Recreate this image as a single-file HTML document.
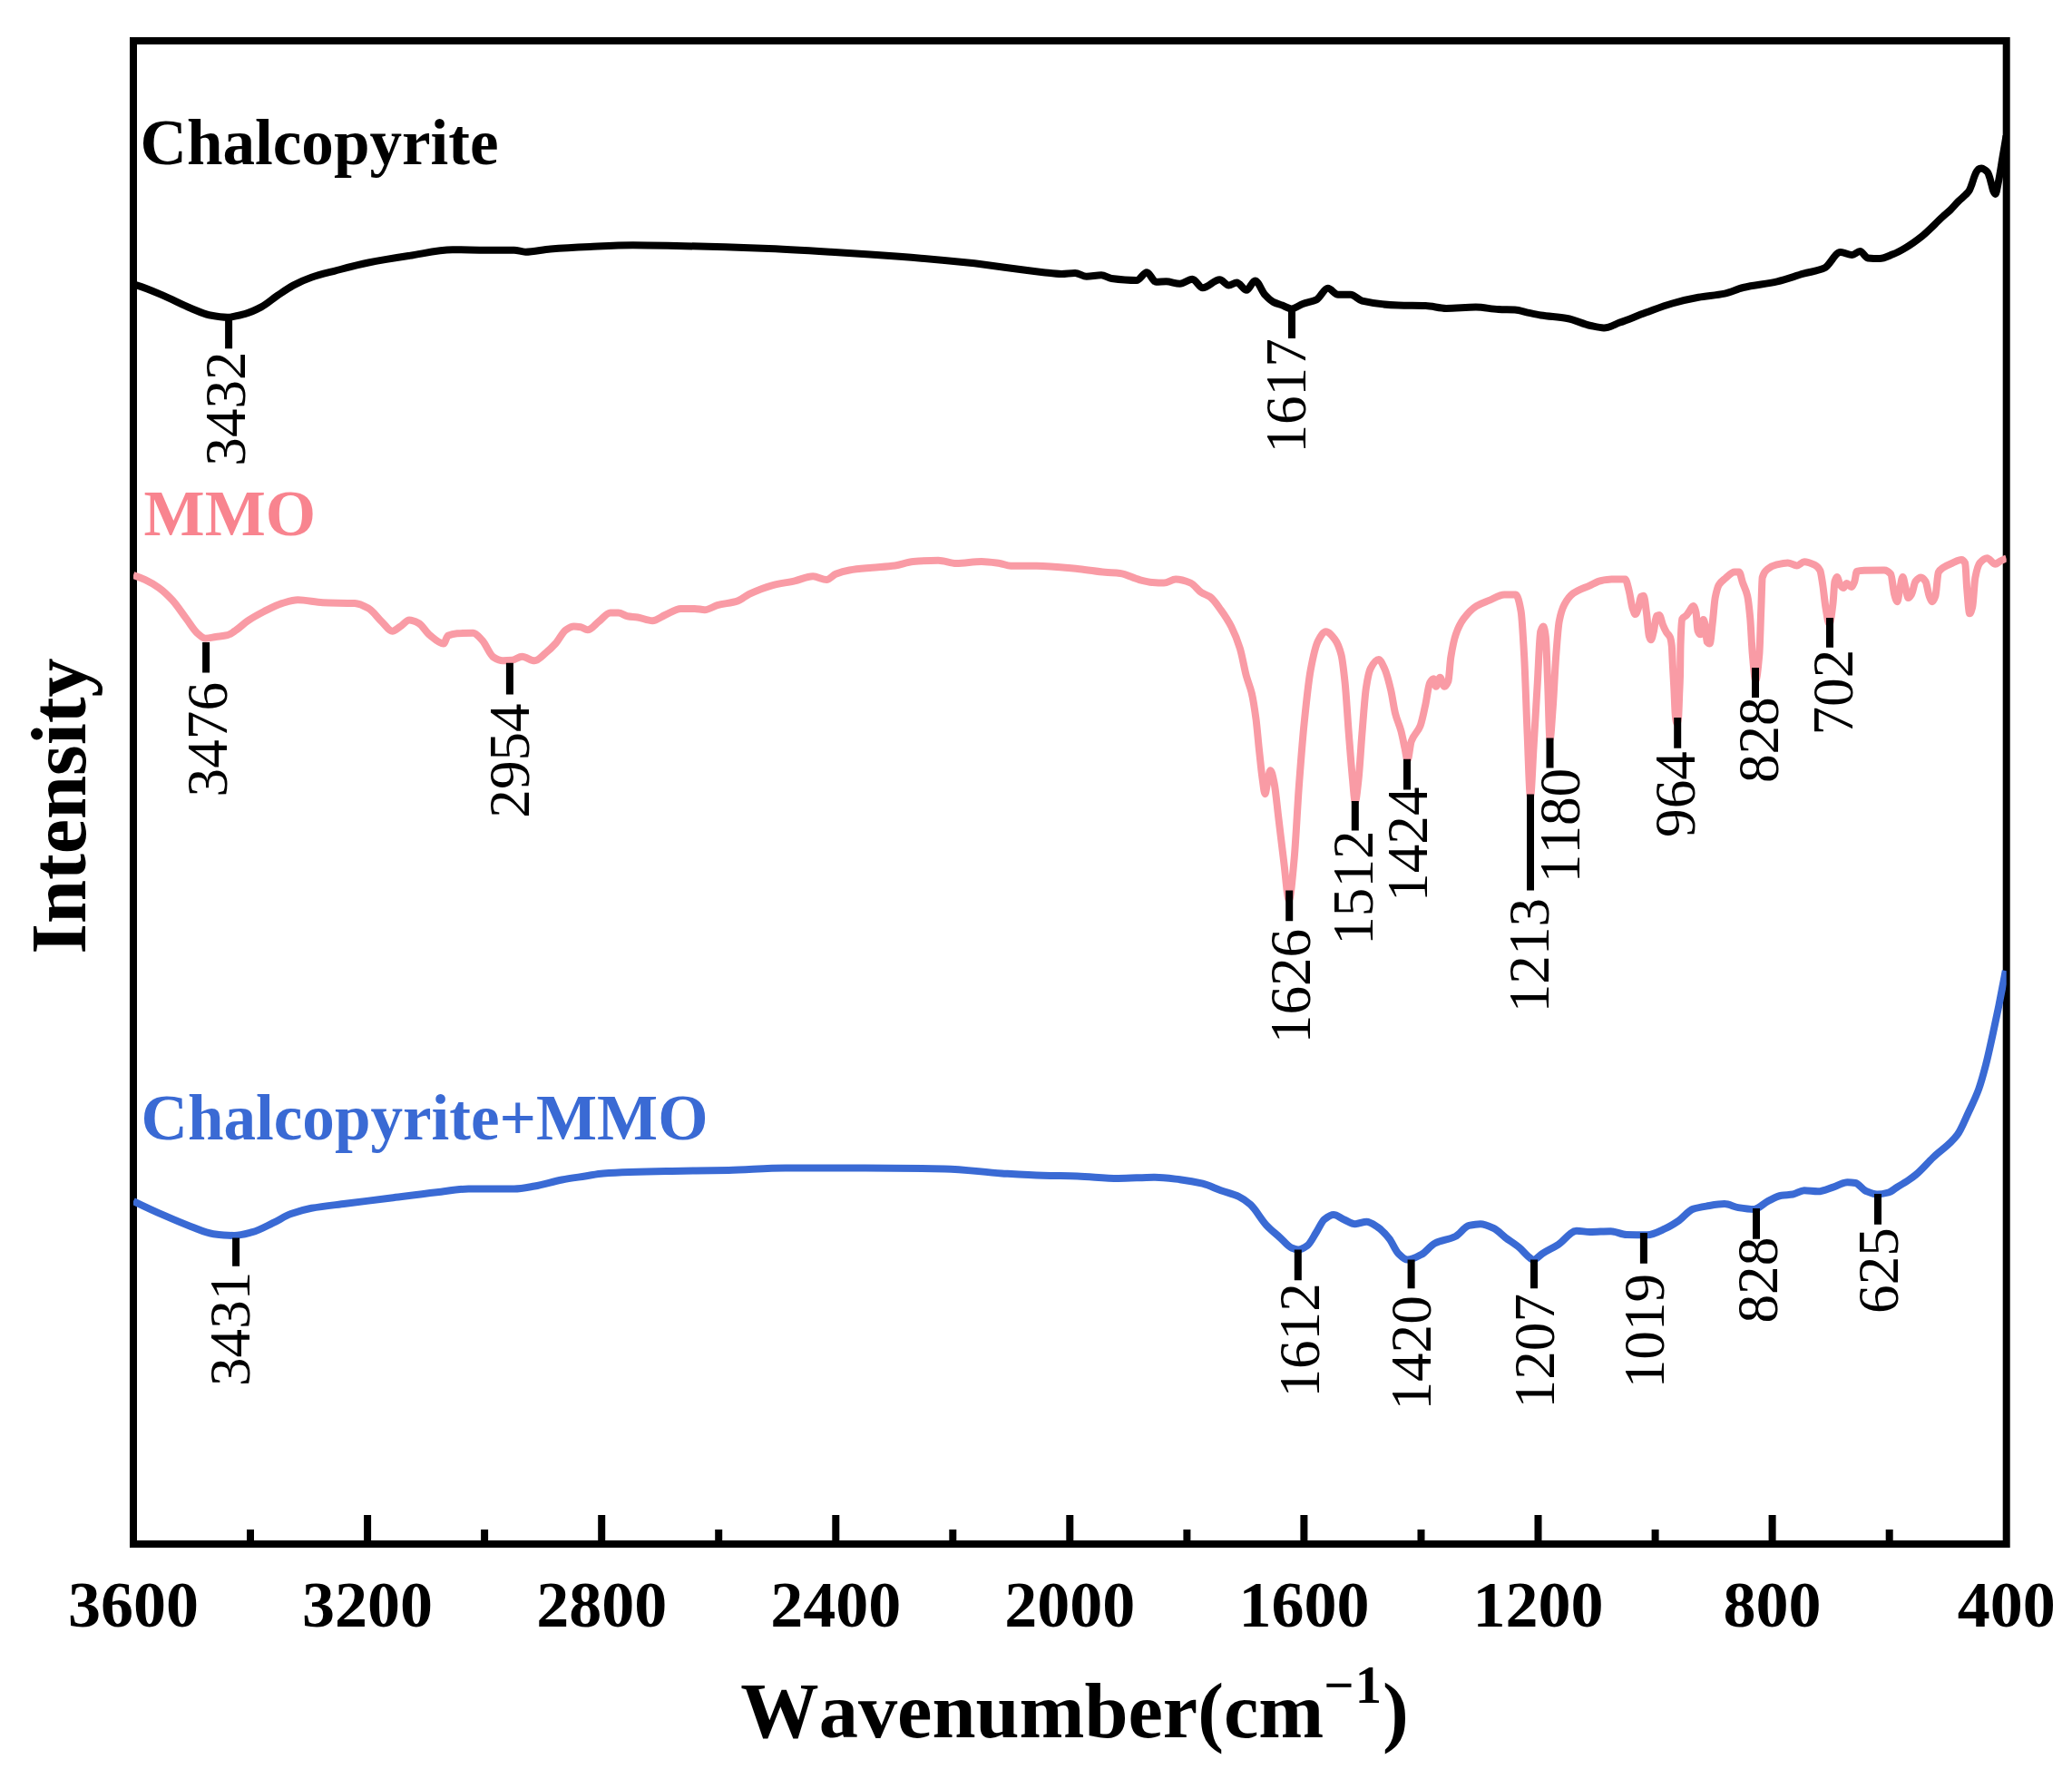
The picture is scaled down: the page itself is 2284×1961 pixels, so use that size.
<!DOCTYPE html>
<html lang="en"><head><meta charset="utf-8"><title>FTIR spectra</title>
<style>
html,body{margin:0;padding:0;background:#fff;}
svg{display:block;}
text{font-family:"Liberation Serif","Times New Roman",Times,serif;font-kerning:none;font-variant-ligatures:none;}
.b{font-weight:bold;}
</style></head><body>
<svg width="2284" height="1961" viewBox="0 0 2284 1961">
<rect width="2284" height="1961" fill="#fff"/>
<rect x="147.0" y="45.0" width="2064.7" height="1657.0" fill="none" stroke="#000" stroke-width="8"/>
<path d="M276.0,1702.0V1686M405.1,1702.0V1670M534.1,1702.0V1686M663.2,1702.0V1670M792.2,1702.0V1686M921.3,1702.0V1670M1050.3,1702.0V1686M1179.3,1702.0V1670M1308.4,1702.0V1686M1437.4,1702.0V1670M1566.5,1702.0V1686M1695.5,1702.0V1670M1824.6,1702.0V1686M1953.6,1702.0V1670M2082.7,1702.0V1686" stroke="#000" stroke-width="8" fill="none"/>
<text class="b" x="147.0" y="1792.6" font-size="72" text-anchor="middle">3600</text>
<text class="b" x="405.1" y="1792.6" font-size="72" text-anchor="middle">3200</text>
<text class="b" x="663.2" y="1792.6" font-size="72" text-anchor="middle">2800</text>
<text class="b" x="921.3" y="1792.6" font-size="72" text-anchor="middle">2400</text>
<text class="b" x="1179.3" y="1792.6" font-size="72" text-anchor="middle">2000</text>
<text class="b" x="1437.4" y="1792.6" font-size="72" text-anchor="middle">1600</text>
<text class="b" x="1695.5" y="1792.6" font-size="72" text-anchor="middle">1200</text>
<text class="b" x="1953.6" y="1792.6" font-size="72" text-anchor="middle">800</text>
<text class="b" x="2211.7" y="1792.6" font-size="72" text-anchor="middle">400</text>
<clipPath id="cp"><rect x="147.0" y="45.0" width="2064.7" height="1657.0"/></clipPath>
<g clip-path="url(#cp)" fill="none" stroke-width="8" stroke-linejoin="round" stroke-linecap="butt">
<path d="M147.0,313.5C148.4,313.8 149.9,314.2 151.3,314.6C160.9,317.4 170.6,321.8 180.2,325.9C190.2,330.1 200.3,335.6 210.3,339.7C217.0,342.4 223.7,345.9 230.4,347.2C237.1,348.4 243.8,349.7 250.5,349.7C257.2,349.7 263.8,347.7 270.5,345.9C276.4,344.3 282.2,341.5 288.1,338.4C294.0,335.3 299.8,329.9 305.7,325.9C311.5,322.0 317.4,317.7 323.2,314.6C329.9,311.1 336.6,308.1 343.3,305.8C351.7,302.9 360.0,301.0 368.4,298.8C381.0,295.5 393.5,292.0 406.1,289.5C421.1,286.5 436.2,284.2 451.2,281.9C467.1,279.5 483.0,275.2 498.9,275.2C511.5,275.2 524.0,275.7 536.6,275.7C546.6,275.7 556.7,275.7 566.7,275.7C570.9,275.7 575.0,277.7 579.2,277.7C588.4,277.7 597.6,275.1 606.8,274.4C621.2,273.2 635.6,272.5 650.0,271.9C665.9,271.2 681.8,270.3 697.7,270.3C713.6,270.3 729.5,270.7 745.4,271.0C777.2,271.6 809.0,272.6 840.8,273.8C865.9,274.8 890.9,276.3 916.0,277.8C941.1,279.3 966.3,280.9 991.4,282.8C1016.5,284.7 1041.5,287.0 1066.6,289.6C1094.4,292.5 1122.2,297.4 1150.0,300.2C1156.7,300.9 1163.4,302.0 1170.1,302.0C1175.1,302.0 1180.1,301.0 1185.1,301.0C1189.3,301.0 1193.5,304.7 1197.7,304.7C1203.1,304.7 1208.6,303.2 1214.0,303.2C1217.8,303.2 1221.5,306.5 1225.3,307.0C1234.5,308.2 1243.7,309.0 1252.9,309.0C1256.7,309.0 1260.4,300.2 1264.2,300.2C1267.5,300.2 1270.9,310.8 1274.2,310.8C1278.0,310.8 1281.7,310.3 1285.5,310.3C1290.5,310.3 1295.6,312.8 1300.6,312.8C1305.2,312.8 1309.8,307.8 1314.4,307.8C1318.2,307.8 1321.9,317.3 1325.7,317.3C1332.0,317.3 1338.2,308.3 1344.5,308.3C1347.8,308.3 1351.2,314.5 1354.5,314.5C1357.4,314.5 1360.4,311.5 1363.3,311.5C1366.9,311.5 1370.5,319.8 1374.1,319.8C1377.2,319.8 1380.3,309.5 1383.4,309.5C1387.2,309.5 1390.9,321.3 1394.7,325.3C1397.6,328.4 1400.6,331.4 1403.5,332.9C1406.8,334.6 1410.2,335.4 1413.5,336.6C1416.9,337.9 1420.2,340.4 1423.6,340.4C1427.8,340.4 1431.9,336.4 1436.1,334.9C1441.1,333.1 1446.2,332.7 1451.2,330.3C1455.4,328.3 1459.5,317.8 1463.7,317.8C1467.5,317.8 1471.2,324.8 1475.0,324.8C1479.6,324.8 1484.2,324.8 1488.8,324.8C1493.0,324.8 1497.2,330.6 1501.4,331.6C1514.8,334.6 1528.1,336.2 1541.5,336.6C1551.5,336.9 1561.6,336.8 1571.6,337.1C1579.1,337.3 1586.7,339.9 1594.2,339.9C1605.1,339.9 1615.9,338.6 1626.8,338.6C1635.2,338.6 1643.5,340.7 1651.9,341.1C1657.9,341.4 1664.0,341.3 1670.0,341.6C1674.7,341.8 1679.3,343.6 1684.0,344.6C1688.8,345.6 1693.7,346.8 1698.5,347.5C1708.1,349.0 1717.8,349.3 1727.4,351.0C1736.1,352.5 1744.8,357.2 1753.5,359.0C1758.3,360.0 1763.2,361.4 1768.0,361.4C1773.8,361.4 1779.6,357.7 1785.4,355.6C1795.0,352.2 1804.7,348.1 1814.3,344.6C1824.0,341.1 1833.6,337.2 1843.3,334.5C1852.9,331.8 1862.6,329.5 1872.2,327.8C1881.9,326.1 1891.5,325.7 1901.2,323.7C1908.0,322.3 1914.7,318.6 1921.5,317.0C1934.0,314.0 1946.5,313.2 1959.0,310.4C1968.7,308.2 1978.3,304.5 1988.0,301.7C1995.7,299.5 2003.5,298.8 2011.2,295.4C2017.0,292.9 2022.8,278.0 2028.6,278.0C2032.9,278.0 2037.3,280.9 2041.6,280.9C2044.5,280.9 2047.4,277.0 2050.3,277.0C2053.2,277.0 2056.1,284.1 2059.0,284.4C2063.3,284.8 2067.7,285.0 2072.0,285.0C2076.8,285.0 2081.7,282.2 2086.5,280.3C2091.3,278.4 2096.2,275.7 2101.0,272.8C2106.8,269.4 2112.6,265.2 2118.4,260.6C2126.1,254.5 2133.8,245.9 2141.5,238.9C2144.3,236.3 2147.2,234.1 2150.0,231.3C2152.9,228.4 2155.9,224.8 2158.8,221.9C2161.5,219.2 2164.2,217.3 2166.9,214.5C2168.2,213.1 2169.6,211.9 2170.9,209.7C2171.8,208.2 2172.7,205.4 2173.6,203.0C2174.5,200.6 2175.4,197.2 2176.3,194.9C2177.2,192.6 2178.1,190.0 2179.0,188.8C2179.9,187.6 2180.8,186.4 2181.7,186.1C2182.6,185.8 2183.5,185.6 2184.4,185.6C2185.5,185.6 2186.7,186.4 2187.8,187.1C2188.9,187.8 2190.1,188.6 2191.2,190.2C2191.9,191.1 2192.5,193.5 2193.2,195.6C2193.9,197.7 2194.5,200.5 2195.2,203.0C2195.9,205.5 2196.5,208.9 2197.2,210.4C2198.0,212.1 2198.7,213.9 2199.5,213.9C2200.6,213.9 2201.7,206.1 2202.8,201.0C2204.3,193.9 2205.9,183.0 2207.4,174.0C2208.8,165.9 2210.1,157.8 2211.5,149.7" stroke="#000"/>
<path d="M147.0,634.0C151.4,635.4 155.7,637.1 160.1,639.2C165.1,641.6 170.2,644.4 175.2,648.0C180.2,651.6 185.2,656.4 190.2,661.8C195.2,667.3 200.3,675.3 205.3,681.9C209.5,687.4 213.6,694.7 217.8,698.2C220.7,700.6 223.7,703.7 226.6,703.7C230.4,703.7 234.1,702.6 237.9,702.0C242.1,701.4 246.3,701.2 250.5,700.2C253.8,699.4 257.2,696.6 260.5,694.4C264.7,691.6 268.9,687.2 273.1,684.4C278.9,680.5 284.8,677.3 290.6,674.3C297.3,670.9 304.0,667.1 310.7,665.1C316.6,663.4 322.4,661.3 328.3,661.3C337.5,661.3 346.7,663.9 355.9,664.3C367.6,664.8 379.3,664.5 391.0,665.1C396.0,665.3 401.1,667.9 406.1,670.6C411.1,673.3 416.1,680.9 421.1,685.6C424.9,689.1 428.6,695.7 432.4,695.7C435.3,695.7 438.3,692.5 441.2,690.7C444.5,688.6 447.9,683.6 451.2,683.6C454.6,683.6 457.9,685.2 461.3,686.9C465.5,688.9 469.6,696.9 473.8,700.2C478.8,704.2 483.9,709.5 488.9,709.5C490.6,709.5 492.2,701.5 493.9,700.7C497.2,699.1 500.6,698.4 503.9,698.2C509.8,697.9 515.6,697.7 521.5,697.7C524.8,697.7 528.2,702.3 531.5,705.7C535.7,710.0 539.9,722.0 544.1,724.5C547.4,726.5 550.8,728.3 554.1,728.3C557.5,728.3 560.8,728.1 564.2,727.8C568.0,727.5 571.7,723.8 575.5,723.8C580.1,723.8 584.7,728.3 589.3,728.3C593.5,728.3 597.6,722.9 601.8,719.5C605.4,716.6 608.9,713.3 612.5,709.3C616.3,705.1 620.0,696.7 623.8,694.3C626.7,692.4 629.7,690.5 632.6,690.5C635.1,690.5 637.7,690.9 640.2,691.3C642.7,691.7 645.2,694.3 647.7,694.3C651.9,694.3 656.0,688.1 660.2,685.0C664.4,681.8 668.6,675.4 672.8,675.4C675.7,675.4 678.7,675.4 681.6,675.4C684.9,675.4 688.3,678.6 691.6,679.2C695.4,679.9 699.1,679.9 702.9,680.5C708.3,681.3 713.8,684.2 719.2,684.2C723.8,684.2 728.4,680.0 733.0,678.0C738.9,675.5 744.7,670.9 750.6,670.9C755.6,670.9 760.6,670.9 765.6,670.9C769.4,670.9 773.1,672.2 776.9,672.2C781.5,672.2 786.1,668.5 790.7,667.2C798.2,665.1 805.8,664.9 813.3,662.4C817.5,661.0 821.7,656.9 825.9,654.9C834.3,650.9 842.6,647.5 851.0,645.3C859.4,643.1 867.7,642.2 876.1,640.3C882.8,638.8 889.4,635.3 896.1,635.3C901.1,635.3 906.2,639.1 911.2,639.1C914.5,639.1 917.9,634.1 921.2,632.8C926.2,630.8 931.3,629.3 936.3,628.5C944.7,627.1 953.0,626.6 961.4,625.8C969.8,625.0 978.1,624.6 986.5,623.5C993.2,622.6 999.9,619.5 1006.6,619.0C1015.8,618.3 1025.0,617.7 1034.2,617.7C1040.9,617.7 1047.5,621.0 1054.2,621.0C1063.4,621.0 1072.7,619.0 1081.9,619.0C1088.6,619.0 1095.2,620.1 1101.9,621.0C1106.0,621.6 1110.1,623.7 1114.2,623.7C1123.6,623.7 1133.1,623.7 1142.5,623.7C1158.2,623.7 1174.0,625.7 1189.7,627.2C1199.2,628.1 1208.6,629.9 1218.1,630.8C1223.6,631.3 1229.1,631.4 1234.6,632.0C1241.7,632.8 1248.7,637.2 1255.8,639.0C1260.5,640.2 1265.3,641.5 1270.0,641.9C1274.3,642.3 1278.7,642.6 1283.0,642.6C1287.3,642.6 1291.7,638.6 1296.0,638.6C1301.5,638.6 1307.0,640.4 1312.5,642.6C1316.4,644.2 1320.4,650.7 1324.3,653.2C1327.5,655.2 1330.6,655.7 1333.8,657.9C1337.7,660.6 1341.7,666.7 1345.6,672.1C1349.5,677.5 1353.5,683.2 1357.4,691.0C1360.5,697.2 1363.7,704.5 1366.8,714.6C1369.2,722.2 1371.5,736.6 1373.9,745.3C1375.9,752.5 1377.8,755.9 1379.8,764.2C1381.4,770.8 1382.9,780.7 1384.5,792.5C1385.7,801.6 1386.9,816.8 1388.1,827.9C1389.3,838.7 1390.4,850.6 1391.6,858.6C1392.6,865.3 1393.5,875.2 1394.5,875.2C1395.3,875.2 1396.2,867.0 1397.0,863.3C1398.1,858.3 1399.3,849.2 1400.4,849.2C1401.8,849.2 1403.2,856.7 1404.6,863.3C1406.2,870.8 1407.8,888.9 1409.4,902.0C1411.3,917.8 1413.3,934.9 1415.2,950.0C1417.1,964.8 1419.0,992.0 1420.9,992.0C1422.7,992.0 1424.6,968.0 1426.4,949.2C1428.3,930.1 1430.1,889.9 1432.0,864.9C1433.9,839.9 1435.7,815.9 1437.6,797.4C1440.0,773.9 1442.3,751.0 1444.7,738.4C1447.5,723.5 1450.3,711.2 1453.1,706.1C1455.9,701.0 1458.7,696.2 1461.5,696.2C1464.8,696.2 1468.1,700.4 1471.4,704.7C1473.7,707.7 1476.1,712.7 1478.4,721.5C1479.8,726.8 1481.2,739.1 1482.6,752.4C1484.0,765.7 1485.4,790.9 1486.8,808.7C1488.2,826.5 1489.6,845.2 1491.0,859.3C1491.9,868.7 1492.9,884.0 1493.8,884.0C1495.0,884.0 1496.3,870.1 1497.5,859.3C1498.8,847.9 1500.1,824.4 1501.4,808.7C1502.9,790.6 1504.4,767.6 1505.9,758.1C1507.5,747.9 1509.1,740.0 1510.7,737.0C1513.7,731.4 1516.7,727.1 1519.7,727.1C1521.9,727.1 1524.0,732.5 1526.2,737.0C1528.5,741.9 1530.9,751.1 1533.2,760.9C1534.8,767.6 1536.4,779.9 1538.0,786.2C1540.1,794.6 1542.3,797.9 1544.4,805.8C1545.8,811.1 1547.3,819.0 1548.7,825.5C1549.6,829.7 1550.6,838.0 1551.5,838.0C1552.9,838.0 1554.3,820.9 1555.7,817.1C1559.0,808.2 1562.2,808.4 1565.5,800.2C1567.4,795.5 1569.2,786.0 1571.1,777.7C1572.8,770.1 1574.5,755.3 1576.2,752.4C1577.5,750.2 1578.8,748.2 1580.1,748.2C1581.0,748.2 1582.0,756.7 1582.9,756.7C1584.4,756.7 1585.9,746.8 1587.4,746.8C1589.0,746.8 1590.6,756.7 1592.2,756.7C1593.6,756.7 1595.0,754.5 1596.4,751.0C1597.4,748.6 1598.3,730.4 1599.3,724.3C1601.2,712.6 1603.0,704.3 1604.9,699.0C1607.7,691.0 1610.5,686.0 1613.3,682.2C1618.0,675.8 1622.7,671.0 1627.4,668.1C1632.1,665.2 1636.7,663.8 1641.4,661.9C1647.0,659.6 1652.7,655.5 1658.3,655.5C1662.5,655.5 1666.7,655.5 1670.9,655.5C1672.8,655.5 1674.7,663.3 1676.6,673.7C1677.8,680.3 1679.0,702.7 1680.2,724.3C1681.3,744.7 1682.5,783.3 1683.6,808.7C1684.7,834.1 1685.9,878.0 1687.0,878.0C1688.2,878.0 1689.4,841.9 1690.6,822.7C1692.0,800.3 1693.4,775.7 1694.8,752.4C1695.9,733.6 1697.1,699.8 1698.2,696.2C1699.2,692.9 1700.3,690.6 1701.3,690.6C1702.1,690.6 1703.0,695.5 1703.8,701.8C1704.6,707.6 1705.3,734.1 1706.1,752.4C1706.9,771.5 1707.7,815.0 1708.5,815.0C1709.6,815.0 1710.6,794.4 1711.7,780.5C1712.8,765.7 1714.0,739.2 1715.1,724.3C1716.3,708.5 1717.5,691.3 1718.7,685.0C1720.6,675.2 1722.4,670.3 1724.3,666.7C1727.6,660.4 1730.9,656.5 1734.2,654.1C1740.2,649.8 1746.1,648.3 1752.1,645.6C1756.2,643.7 1760.2,641.0 1764.3,640.2C1768.3,639.4 1772.4,638.6 1776.4,638.6C1781.5,638.6 1786.5,638.6 1791.6,638.6C1792.9,638.6 1794.3,645.7 1795.6,650.7C1797.0,655.8 1798.3,667.0 1799.7,670.9C1800.7,673.7 1801.7,677.0 1802.7,677.0C1803.7,677.0 1804.8,673.7 1805.8,670.9C1806.8,668.2 1807.8,658.4 1808.8,657.8C1809.8,657.2 1810.8,656.8 1811.8,656.8C1812.8,656.8 1813.9,667.7 1814.9,675.0C1815.9,682.0 1816.9,698.2 1817.9,701.3C1818.6,703.4 1819.2,705.3 1819.9,705.3C1820.9,705.3 1822.0,699.4 1823.0,695.2C1824.0,691.1 1825.0,679.6 1826.0,679.0C1827.0,678.4 1828.0,678.0 1829.0,678.0C1830.4,678.0 1831.7,685.9 1833.1,689.1C1834.4,692.2 1835.8,695.0 1837.1,697.2C1838.4,699.3 1839.7,699.5 1841.0,702.5C1841.6,703.9 1842.2,706.7 1842.8,712.0C1843.1,714.9 1843.5,725.4 1843.8,731.6C1844.3,740.3 1844.7,747.5 1845.2,756.2C1845.8,766.7 1846.3,785.6 1846.9,789.9C1847.4,794.0 1848.0,797.5 1848.5,797.5C1849.1,797.5 1849.6,794.5 1850.2,789.9C1850.5,787.2 1850.9,773.3 1851.2,765.0C1851.5,758.3 1851.7,755.0 1852.0,744.9C1852.2,738.6 1852.3,716.3 1852.5,711.2C1853.1,694.0 1853.6,683.6 1854.2,682.5C1855.7,679.6 1857.2,680.2 1858.7,678.6C1859.6,677.6 1860.5,676.2 1861.4,675.0C1863.1,672.7 1864.8,667.9 1866.5,667.9C1867.5,667.9 1868.5,671.0 1869.5,675.0C1870.2,677.7 1870.8,693.5 1871.5,695.2C1872.5,697.8 1873.6,699.3 1874.6,699.3C1875.6,699.3 1876.6,683.1 1877.6,683.1C1878.4,683.1 1879.2,687.0 1880.0,691.2C1880.5,694.0 1881.1,706.7 1881.6,707.4C1882.6,708.8 1883.7,709.4 1884.7,709.4C1885.7,709.4 1886.7,695.4 1887.7,687.1C1888.7,678.8 1889.7,664.0 1890.7,658.8C1892.1,651.7 1893.4,646.8 1894.8,644.6C1897.2,640.7 1899.5,639.5 1901.9,637.5C1905.3,634.7 1908.6,630.5 1912.0,630.5C1913.7,630.5 1915.3,630.5 1917.0,630.5C1918.4,630.5 1919.7,638.7 1921.1,642.6C1922.8,647.5 1924.5,649.5 1926.2,656.8C1927.2,661.1 1928.2,670.3 1929.2,681.0C1930.1,690.3 1930.9,711.9 1931.8,721.5C1932.9,734.0 1934.1,750.0 1935.2,750.0C1936.6,750.0 1937.9,737.4 1939.3,721.5C1940.0,713.7 1940.6,687.5 1941.3,670.9C1941.8,659.3 1942.2,638.2 1942.7,636.5C1944.6,629.6 1946.5,628.9 1948.4,627.4C1951.8,624.7 1955.1,623.2 1958.5,622.4C1962.6,621.4 1966.6,620.4 1970.7,620.4C1974.1,620.4 1977.4,623.4 1980.8,623.4C1983.5,623.4 1986.2,619.3 1988.9,619.3C1992.7,619.3 1996.4,620.9 2000.2,622.7C2002.2,623.7 2004.3,625.1 2006.3,628.8C2007.3,630.6 2008.3,638.6 2009.3,645.0C2010.3,651.6 2011.4,663.3 2012.4,669.3C2013.8,677.3 2015.1,688.0 2016.5,688.0C2017.8,688.0 2019.2,676.0 2020.5,665.2C2021.2,659.8 2021.8,643.3 2022.5,640.9C2023.3,638.0 2024.1,635.9 2024.9,635.9C2026.1,635.9 2027.4,643.5 2028.6,645.0C2029.8,646.5 2031.0,648.0 2032.2,648.0C2033.3,648.0 2034.5,643.0 2035.6,643.0C2037.3,643.0 2039.0,647.0 2040.7,647.0C2041.9,647.0 2043.1,643.9 2044.3,640.9C2045.1,638.8 2046.0,630.0 2046.8,629.8C2049.5,629.0 2052.2,628.9 2054.9,628.8C2062.3,628.5 2069.7,628.4 2077.1,628.4C2079.5,628.4 2081.8,629.9 2084.2,632.8C2085.5,634.4 2086.9,650.4 2088.2,655.1C2089.2,658.7 2090.3,663.2 2091.3,663.2C2092.3,663.2 2093.3,653.5 2094.3,649.0C2095.3,644.4 2096.4,635.9 2097.4,635.9C2098.4,635.9 2099.4,643.1 2100.4,647.0C2101.4,650.9 2102.4,659.1 2103.4,659.1C2104.6,659.1 2105.9,657.1 2107.1,655.1C2108.6,652.8 2110.0,642.7 2111.5,640.9C2113.5,638.4 2115.6,636.5 2117.6,636.5C2119.3,636.5 2120.9,638.4 2122.6,640.9C2124.0,642.9 2125.3,653.8 2126.7,657.1C2127.8,659.9 2129.0,663.2 2130.1,663.2C2131.2,663.2 2132.3,660.4 2133.4,657.1C2134.5,653.7 2135.7,632.9 2136.8,630.8C2138.5,627.7 2140.2,627.0 2141.9,625.8C2145.3,623.5 2148.6,622.1 2152.0,620.7C2155.4,619.3 2158.7,617.1 2162.1,617.1C2163.5,617.1 2164.8,618.2 2166.2,620.7C2166.9,621.9 2167.5,641.5 2168.2,649.0C2169.2,660.2 2170.2,676.3 2171.2,676.3C2172.2,676.3 2173.2,673.1 2174.2,669.3C2175.2,665.4 2176.3,642.2 2177.3,636.9C2179.0,628.3 2180.6,622.7 2182.3,620.7C2185.0,617.5 2187.7,615.2 2190.4,615.2C2193.4,615.2 2196.5,621.7 2199.5,621.7C2201.2,621.7 2202.9,619.6 2204.6,618.7C2207.0,617.5 2209.3,616.3 2211.7,615.4" stroke="#F99BA5"/>
<path d="M147.0,1324.0C158.1,1329.4 169.1,1334.6 180.2,1339.4C190.2,1343.8 200.3,1348.2 210.3,1351.9C218.7,1355.0 227.0,1359.2 235.4,1360.2C242.9,1361.1 250.5,1361.9 258.0,1361.9C264.7,1361.9 271.4,1359.9 278.1,1358.2C285.6,1356.3 293.2,1351.8 300.7,1348.2C307.4,1345.1 314.0,1340.5 320.7,1338.1C328.2,1335.4 335.8,1333.2 343.3,1331.8C355.9,1329.5 368.4,1328.4 381.0,1326.8C397.7,1324.6 414.5,1322.6 431.2,1320.5C447.9,1318.4 464.7,1316.2 481.4,1314.3C493.1,1313.0 504.8,1310.5 516.5,1310.5C533.2,1310.5 550.0,1310.5 566.7,1310.5C574.2,1310.5 581.8,1308.8 589.3,1307.5C599.3,1305.8 609.4,1302.4 619.4,1300.5C627.9,1298.9 636.5,1297.8 645.0,1296.5C651.7,1295.5 658.4,1293.8 665.1,1293.4C690.2,1291.8 715.3,1291.4 740.4,1290.9C761.3,1290.5 782.2,1290.4 803.1,1289.9C824.0,1289.4 845.0,1287.4 865.9,1287.4C895.2,1287.4 924.4,1287.4 953.7,1287.4C983.0,1287.4 1012.2,1287.8 1041.5,1288.4C1062.4,1288.8 1083.4,1292.1 1104.3,1293.4C1119.5,1294.3 1134.8,1295.3 1150.0,1295.7C1162.5,1296.1 1175.1,1296.1 1187.6,1296.5C1202.7,1297.0 1217.7,1299.0 1232.8,1299.0C1246.2,1299.0 1259.6,1297.7 1273.0,1297.7C1282.2,1297.7 1291.4,1299.1 1300.6,1300.2C1309.0,1301.2 1317.3,1302.6 1325.7,1304.7C1332.4,1306.4 1339.1,1309.9 1345.8,1312.3C1352.5,1314.7 1359.1,1316.0 1365.8,1319.1C1370.0,1321.1 1374.2,1324.1 1378.4,1327.8C1384.2,1333.0 1390.1,1344.2 1395.9,1350.4C1400.9,1355.8 1406.0,1359.6 1411.0,1364.2C1415.2,1368.0 1419.4,1373.8 1423.6,1375.5C1426.1,1376.5 1428.6,1377.5 1431.1,1377.5C1434.4,1377.5 1437.8,1375.3 1441.1,1373.0C1444.5,1370.7 1447.8,1363.2 1451.2,1358.0C1454.1,1353.5 1457.0,1346.5 1459.9,1344.2C1463.3,1341.6 1466.6,1339.1 1470.0,1339.1C1473.8,1339.1 1477.5,1342.6 1481.3,1344.2C1485.5,1346.0 1489.6,1349.2 1493.8,1349.2C1498.0,1349.2 1502.2,1346.7 1506.4,1346.7C1510.6,1346.7 1514.7,1350.1 1518.9,1352.9C1523.1,1355.7 1527.3,1360.2 1531.5,1365.5C1534.8,1369.7 1538.2,1378.6 1541.5,1381.8C1544.8,1385.0 1548.2,1388.6 1551.5,1388.6C1556.5,1388.6 1561.6,1385.6 1566.6,1383.0C1571.6,1380.4 1576.7,1373.0 1581.7,1370.5C1589.2,1366.8 1596.7,1366.6 1604.2,1363.0C1609.2,1360.6 1614.3,1352.0 1619.3,1350.9C1623.5,1350.0 1627.7,1349.2 1631.9,1349.2C1636.9,1349.2 1641.9,1351.8 1646.9,1354.2C1651.1,1356.2 1655.3,1361.0 1659.5,1364.2C1664.7,1368.1 1669.9,1371.1 1675.1,1375.5C1678.0,1378.0 1681.0,1381.9 1683.9,1384.3C1686.0,1386.0 1688.1,1388.6 1690.2,1388.6C1693.5,1388.6 1696.9,1383.9 1700.2,1381.8C1706.1,1378.1 1711.9,1375.6 1717.8,1371.8C1724.5,1367.5 1731.2,1356.7 1737.9,1356.7C1742.9,1356.7 1747.9,1358.0 1752.9,1358.0C1760.4,1358.0 1768.0,1357.2 1775.5,1357.2C1781.4,1357.2 1787.2,1360.9 1793.1,1361.0C1800.6,1361.1 1808.2,1361.2 1815.7,1361.2C1822.4,1361.2 1829.1,1357.2 1835.8,1354.2C1840.8,1352.0 1845.8,1348.8 1850.8,1345.4C1855.8,1341.9 1860.9,1334.6 1865.9,1332.9C1870.9,1331.2 1875.9,1330.4 1880.9,1329.6C1887.6,1328.5 1894.3,1327.1 1901.0,1327.1C1906.0,1327.1 1911.1,1330.3 1916.1,1331.1C1921.9,1332.0 1927.8,1332.9 1933.6,1332.9C1938.6,1332.9 1943.7,1326.6 1948.7,1324.1C1953.7,1321.7 1958.7,1318.6 1963.7,1317.8C1967.9,1317.1 1972.1,1317.2 1976.3,1316.5C1980.5,1315.8 1984.6,1312.3 1988.8,1312.3C1993.8,1312.3 1998.9,1313.3 2003.9,1313.3C2009.8,1313.3 2015.6,1310.1 2021.5,1308.3C2026.5,1306.7 2031.5,1303.2 2036.5,1303.2C2039.4,1303.2 2042.4,1303.5 2045.3,1304.0C2049.1,1304.6 2052.8,1311.2 2056.6,1312.8C2060.8,1314.6 2064.9,1316.5 2069.1,1316.5C2073.3,1316.5 2077.5,1315.6 2081.7,1314.5C2085.0,1313.7 2088.2,1310.5 2091.5,1308.5C2095.8,1305.9 2100.0,1303.4 2104.3,1300.5C2106.8,1298.8 2109.4,1297.0 2111.9,1294.9C2118.2,1289.7 2124.5,1282.1 2130.8,1276.0C2139.7,1267.3 2148.7,1262.9 2157.6,1250.9C2161.8,1245.3 2165.9,1234.6 2170.1,1225.7C2173.8,1217.8 2177.5,1210.7 2181.2,1200.5C2183.8,1193.3 2186.4,1183.8 2189.0,1173.8C2191.6,1163.7 2194.3,1151.1 2196.9,1139.1C2199.0,1129.5 2201.1,1119.6 2203.2,1109.2C2205.0,1100.1 2206.9,1090.4 2208.7,1080.9C2209.4,1077.3 2210.1,1073.6 2210.8,1070.0" stroke="#3A6AD4"/>
</g>
<path d="M252.1,351.0V384.3M1424.0,340.0V373.0M227.1,707.9V741.6M561.9,730.8V765.4M1421.2,981.5V1015.3M1493.8,883.0V915.5M1551.0,836.8V870.5M1687.0,875.6V981.5M1708.5,813.4V846.6M1849.2,790.9V824.7M1935.0,736.1V769.1M2017.0,681.0V713.8M260.1,1364.5V1395.8M1430.8,1377.5V1411.2M1555.6,1388.6V1420.2M1691.0,1388.6V1420.2M1811.9,1359.0V1392.7M1936.0,1332.0V1365.7M2070.0,1316.0V1349.8" stroke="#000" stroke-width="8" fill="none"/>
<text transform="translate(269.5,450.5) rotate(-90)" font-size="63.2" text-anchor="middle">3432</text>
<text transform="translate(1438.7,436.4) rotate(-90)" font-size="63.2" text-anchor="middle">1617</text>
<text transform="translate(249.5,815.2) rotate(-90)" font-size="63.2" text-anchor="middle">3476</text>
<text transform="translate(582.5,838.5) rotate(-90)" font-size="63.2" text-anchor="middle">2954</text>
<text transform="translate(1443.7,1087.0) rotate(-90)" font-size="63.2" text-anchor="middle">1626</text>
<text transform="translate(1512.9,978.6) rotate(-90)" font-size="63.2" text-anchor="middle">1512</text>
<text transform="translate(1573.3,930.7) rotate(-90)" font-size="63.2" text-anchor="middle">1424</text>
<text transform="translate(1706.7,1053.1) rotate(-90)" font-size="63.2" text-anchor="middle">1213</text>
<text transform="translate(1740.9,910.0) rotate(-90)" font-size="63.2" text-anchor="middle">1180</text>
<text transform="translate(1868.3,875.5) rotate(-90)" font-size="63.2" text-anchor="middle">964</text>
<text transform="translate(1959.5,815.7) rotate(-90)" font-size="63.2" text-anchor="middle">828</text>
<text transform="translate(2041.9,763.1) rotate(-90)" font-size="63.2" text-anchor="middle">702</text>
<text transform="translate(274.7,1464.8) rotate(-90)" font-size="63.2" text-anchor="middle">3431</text>
<text transform="translate(1453.9,1477.4) rotate(-90)" font-size="63.2" text-anchor="middle">1612</text>
<text transform="translate(1576.7,1491.4) rotate(-90)" font-size="63.2" text-anchor="middle">1420</text>
<text transform="translate(1713.1,1489.2) rotate(-90)" font-size="63.2" text-anchor="middle">1207</text>
<text transform="translate(1833.9,1467.1) rotate(-90)" font-size="63.2" text-anchor="middle">1019</text>
<text transform="translate(1958.9,1411.1) rotate(-90)" font-size="63.2" text-anchor="middle">828</text>
<text transform="translate(2091.9,1400.5) rotate(-90)" font-size="63.2" text-anchor="middle">625</text>
<text class="b" x="154.6" y="181" font-size="71.1">Chalcopyrite</text>
<text class="b" x="158.6" y="589.8" font-size="71.1" fill="#F8848F">MMO</text>
<text class="b" x="155.6" y="1256.3" font-size="71.1" fill="#3A6AD4">Chalcopyrite+MMO</text>
<text class="b" transform="translate(93.9,888.5) rotate(-90)" font-size="86.4" text-anchor="middle">Intensity</text>
<text class="b" x="816.3" y="1914.6" font-size="86.4">Wavenumber(cm<tspan font-size="58.5" dy="-37.2" letter-spacing="1">−1</tspan><tspan dy="37.2">)</tspan></text>
</svg>
</body></html>
